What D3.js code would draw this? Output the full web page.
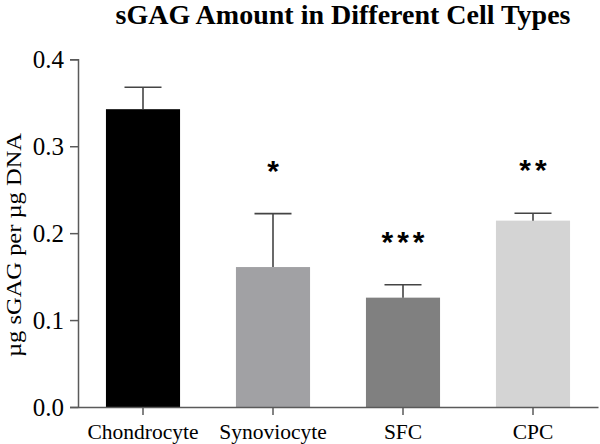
<!DOCTYPE html>
<html>
<head>
<meta charset="utf-8">
<script src="https://cdn.jsdelivr.net/npm/d3@7"></script>
<style>
  html, body { margin: 0; padding: 0; background: #fff; }
  svg { display: block; }
</style>
</head>
<body>
<svg id="chart" width="600" height="444"></svg>
<script>
const categories = ["Chondrocyte", "Synoviocyte", "SFC", "CPC"];
const means = [0.3426, 0.161, 0.1258, 0.2144];
const errors = [0.0253, 0.0615, 0.0149, 0.0085];
const significance = ["", "*", "***", "**"];
const barColors = ["#000000", "#a1a1a4", "#808080", "#d4d4d4"];
const yTicks = [0.0, 0.1, 0.2, 0.3, 0.4];
const title = "sGAG Amount in Different Cell Types";
const yLabel = "µg sGAG per µg DNA";

(function () {
const svg = d3.select("#chart");
const mLeft = 78, mRight = 598, mTop = 59.3, mBottom = 407;

const x = d3.scaleBand().domain(categories).range([mLeft, mRight])
  .paddingInner(0.43).paddingOuter(0.215);
const y = d3.scaleLinear().domain([0, 0.4]).range([mBottom, mTop]);

const serif = "'Liberation Serif', 'Times New Roman', serif";
const axisColor = "#5a5a5a";

// bars
svg.append("g").selectAll("rect").data(categories).join("rect")
  .attr("x", d => x(d))
  .attr("width", x.bandwidth())
  .attr("y", (d, i) => y(means[i]))
  .attr("height", (d, i) => y(0) - y(means[i]))
  .attr("fill", (d, i) => barColors[i]);

// error bars (upper only)
const eb = svg.append("g").attr("stroke", "#444").attr("stroke-width", 1.6);
categories.forEach((c, i) => {
  const cx = x(c) + x.bandwidth() / 2;
  eb.append("line").attr("x1", cx).attr("x2", cx)
    .attr("y1", y(means[i])).attr("y2", y(means[i] + errors[i]));
  eb.append("line").attr("x1", cx - 18.5).attr("x2", cx + 18.5)
    .attr("y1", y(means[i] + errors[i])).attr("y2", y(means[i] + errors[i]));
});

// significance stars
svg.append("g").selectAll("text").data(categories).join("text")
  .attr("x", d => x(d) + x.bandwidth() / 2 + 2)
  .attr("y", (d, i) => y(means[i] + errors[i]) - 33)
  .attr("text-anchor", "middle")
  .attr("font-family", "'Liberation Sans', Arial, sans-serif")
  .attr("font-weight", "bold")
  .attr("font-size", 30)
  .attr("letter-spacing", 4)
  .attr("fill", "#000")
  .text((d, i) => significance[i]);

// y axis
const yAxis = svg.append("g").attr("transform", `translate(${mLeft},0)`)
  .call(d3.axisLeft(y).tickValues(yTicks).tickFormat(d3.format(".1f")).tickSize(8).tickPadding(6));
yAxis.select(".domain").attr("stroke", axisColor).attr("stroke-width", 1.5);
yAxis.selectAll(".tick line").attr("stroke", axisColor).attr("stroke-width", 1.5);
yAxis.selectAll(".tick text").attr("font-family", serif).attr("font-size", 25).attr("fill", "#000");

// x axis
const xAxis = svg.append("g").attr("transform", `translate(0,${mBottom})`)
  .call(d3.axisBottom(x).tickSize(8).tickSizeOuter(0).tickPadding(9));
xAxis.select(".domain").attr("stroke", axisColor).attr("stroke-width", 1.5);
xAxis.selectAll(".tick line").attr("stroke", axisColor).attr("stroke-width", 1.5);
xAxis.selectAll(".tick text").attr("font-family", serif).attr("font-size", 21.5).attr("fill", "#000");

// title
svg.append("text").attr("x", 343).attr("y", 24)
  .attr("text-anchor", "middle")
  .attr("font-family", serif).attr("font-weight", "bold").attr("font-size", 28)
  .attr("fill", "#000").text(title);

// y label
svg.append("text")
  .attr("transform", `translate(21,245) rotate(-90)`)
  .attr("text-anchor", "middle")
  .attr("font-family", serif).attr("font-size", 22)
  .attr("textLength", 224).attr("lengthAdjust", "spacingAndGlyphs")
  .attr("fill", "#000").text(yLabel);
})();
</script>
</body>
</html>
